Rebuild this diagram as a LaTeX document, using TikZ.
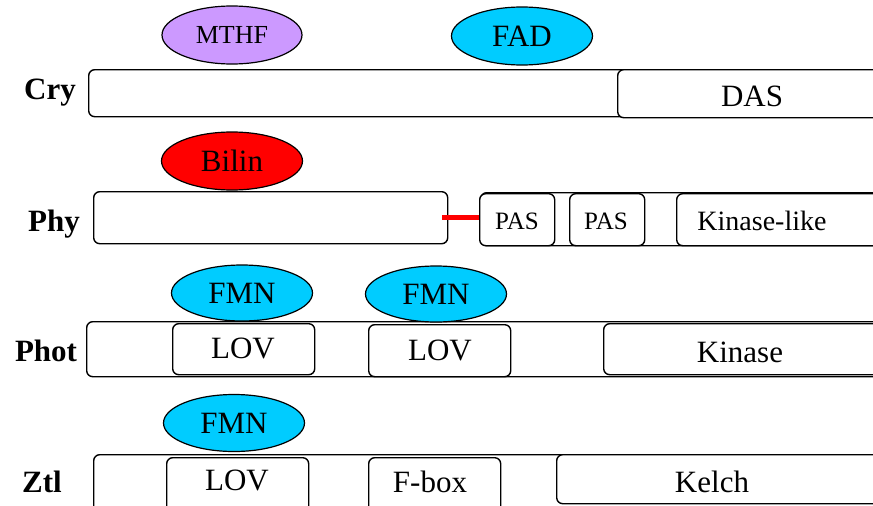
\documentclass[tikz,border=0pt]{standalone}
\usepackage{fontspec}
\setmainfont{Liberation Serif}
\usetikzlibrary{shapes.geometric}
\definecolor{mthfc}{HTML}{CC99FF}
\definecolor{fadc}{HTML}{00CCFF}
\definecolor{bilc}{HTML}{FF0000}
\begin{document}
\begin{tikzpicture}[x=1pt,y=-1pt,
  dom/.style={draw=black, line width=1.4pt, rounded corners=6pt, fill=white, inner sep=0pt, anchor=north west},
  lig/.style={ellipse, draw=black, line width=1.2pt, inner sep=0pt, minimum width=141pt, minimum height=57pt},
  fs/.style={font=\fontsize{#1}{#1}\selectfont, text height=0.66*#1 pt, text depth=0pt},
  txt/.style={fs=31, inner sep=0pt},
  lab/.style={font=\fontsize{31}{31}\selectfont\bfseries, text height=20.5pt, text depth=0pt, inner sep=0pt}]
\useasboundingbox (0,0) rectangle (873,506);
\clip (0,0) rectangle (873,506);

% ---------- Cry ----------
\node[lab] (crylab) at (50,89) {Cry};
\node[dom, minimum width=830pt, minimum height=47pt] (cry) at (88,69) {};
\node[dom, minimum width=300pt, minimum height=48pt] (das) at (617,69) {};
\node[txt] (dastxt) at (752,96) {DAS};
\node[lig, fill=mthfc, fs=26, minimum width=140pt, minimum height=58pt] (mthf) at (232,35) {MTHF};
\node[lig, fill=fadc, fs=31, minimum height=58pt] (fad) at (522,36) {FAD};

% ---------- Phy ----------
\node[lab] (phylab) at (54,221) {Phy};
\node[dom, minimum width=420pt, minimum height=53pt] (phyb) at (480,192) {};
\node[dom, minimum width=354pt, minimum height=52pt] (phya) at (93,191) {};
\draw[bilc, line width=4.5pt] ([xshift=-6pt]phya.east) -- (phya.east -| phyb.west);
\node[dom, minimum width=75pt, minimum height=52pt] (pas1) at (479,193) {};
\node[txt, fs=25] (pas1t) at (517,221) {PAS};
\node[dom, minimum width=75pt, minimum height=52pt] (pas2) at (569,193) {};
\node[txt, fs=25] (pas2t) at (606,221) {PAS};
\node[dom, minimum width=250pt, minimum height=52pt] (kinl) at (676,193) {};
\node[txt, fs=28] (kinlt) at (762,221) {Kinase-like};
\node[lig, fill=bilc, fs=31, minimum height=58pt] (bilin) at (232,161) {Bilin};

% ---------- Phot ----------
\node[lab] (photlab) at (46,351) {Phot};
\node[dom, minimum width=830pt, minimum height=55pt] (phot) at (86,321) {};
\node[dom, minimum width=142pt, minimum height=51pt] (lov1) at (172,323) {};
\node[txt] (lov1t) at (243,348) {LOV};
\node[dom, minimum width=142pt, minimum height=52pt] (lov2) at (368,324) {};
\node[txt] (lov2t) at (440,350) {LOV};
\node[dom, minimum width=300pt, minimum height=51pt] (kin) at (603,323) {};
\node[txt] (kint) at (740,352) {Kinase};
\node[lig, fill=fadc, fs=31, minimum height=56pt] (fmn1) at (242,293) {FMN};
\node[lig, fill=fadc, fs=31, minimum height=56pt] (fmn2) at (436,294) {FMN};

% ---------- Ztl ----------
\node[lab] (ztllab) at (42,482) {Ztl};
\node[dom, minimum width=830pt, minimum height=80pt] (ztl) at (93,454) {};
\node[dom, minimum width=142pt, minimum height=80pt] (lov3) at (166,457) {};
\node[txt] (lov3t) at (237,480) {LOV};
\node[dom, minimum width=132pt, minimum height=80pt] (fbox) at (368,457) {};
\node[txt] (fboxt) at (430,482) {F-box};
\node[dom, minimum width=340pt, minimum height=49pt] (kelch) at (556,454) {};
\node[txt] (kelcht) at (712,482) {Kelch};
\node[lig, fill=fadc, fs=31] (fmn3) at (234,423) {FMN};
\end{tikzpicture}
\end{document}
